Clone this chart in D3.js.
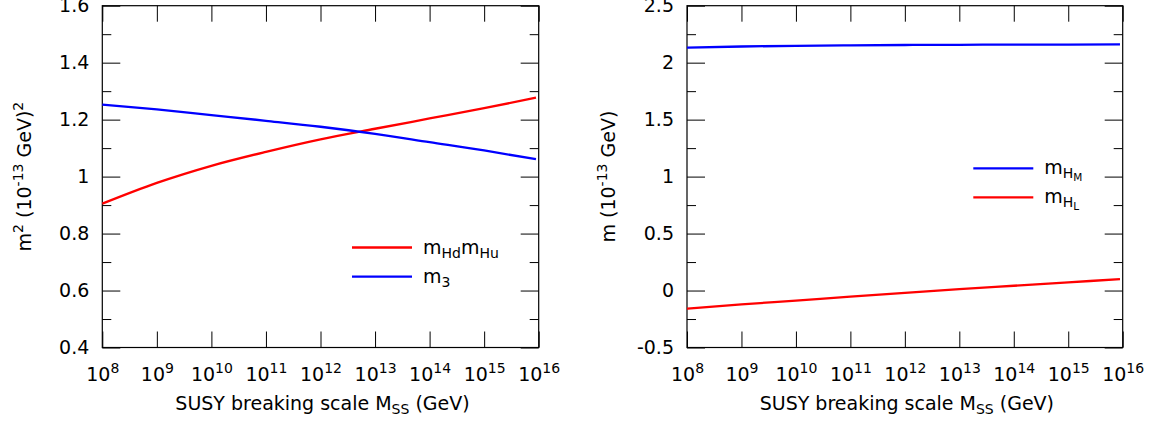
<!DOCTYPE html>
<html><head><meta charset="utf-8">
<script src="https://cdn.jsdelivr.net/npm/d3@7"></script>
<style>
html,body{margin:0;padding:0;background:#fff;}
svg{display:block;font-family:"DejaVu Sans",sans-serif;}
</style></head>
<body>
<svg id="c" width="1155" height="423"></svg>
<script>
// ---- data ----
const exponents = [8, 9, 10, 11, 12, 13, 14, 15, 15.95];   // log10(M_SS / GeV)
const mHdmHu = [0.905, 0.978, 1.038, 1.087, 1.131, 1.168, 1.204, 1.240, 1.277];
const m3     = [1.253, 1.236, 1.216, 1.196, 1.175, 1.150, 1.121, 1.092, 1.061];
const mHM    = [2.132, 2.142, 2.148, 2.152, 2.155, 2.157, 2.158, 2.159, 2.160];
const mHL    = [-0.160, -0.122, -0.088, -0.053, -0.020, 0.012, 0.042, 0.072, 0.100];
const xTickExps = [8, 9, 10, 11, 12, 13, 14, 15, 16];
const leftYTicks = [0.4, 0.6, 0.8, 1.0, 1.2, 1.4, 1.6];
const rightYTicks = [-0.5, 0, 0.5, 1.0, 1.5, 2.0, 2.5];
const xTitle = ["SUSY breaking scale M", "SS", " (GeV)"];

const svg = d3.select("#c");
const FS = 19, SFS = 14;

function panel(opt) {
  const x = d3.scaleLog().domain([1e8, 1e16]).range([opt.x0, opt.x1]);
  const y = d3.scaleLinear().domain(opt.ydom).range([opt.y1, opt.y0]);
  const g = svg.append("g");
  const xt = xTickExps.map(e => Math.pow(10, e));
  const ymin = [];
  for (let i = 0; i < opt.yticks.length - 1; i++) ymin.push((opt.yticks[i] + opt.yticks[i+1]) / 2);

  // inward ticks
  const tick = (axis, tx, ty, vals, size) => g.append("g")
    .attr("transform", `translate(${tx},${ty})`)
    .call(axis.tickValues(vals).tickSizeInner(size).tickSizeOuter(0).tickFormat(""))
    .call(s => s.select(".domain").remove())
    .call(s => s.selectAll("line").attr("stroke", "#000").attr("stroke-width", 1));
  tick(d3.axisTop(x), 0, opt.y1, xt, 16);
  tick(d3.axisBottom(x), 0, opt.y0, xt, 16);
  tick(d3.axisRight(y), opt.x0, 0, opt.yticks, 18);
  tick(d3.axisLeft(y), opt.x1, 0, opt.yticks, 18);
  tick(d3.axisRight(y), opt.x0, 0, ymin, 9);
  tick(d3.axisLeft(y), opt.x1, 0, ymin, 9);

  // y tick labels
  g.append("g").attr("transform", `translate(${opt.x0},0)`)
    .call(d3.axisLeft(y).tickValues(opt.yticks).tickSize(0).tickPadding(13)
      .tickFormat(d => String(+d.toFixed(1)).replace("\u2212", "-")))
    .call(s => s.select(".domain").remove())
    .call(s => s.selectAll("text").attr("font-size", FS).attr("font-family", "DejaVu Sans").attr("fill", "#000"));

  // x tick labels with superscripts
  const xa = g.append("g").attr("transform", `translate(0,${opt.y1})`)
    .call(d3.axisBottom(x).tickValues(xt).tickSize(0).tickFormat(d => String(Math.round(Math.log10(d)))))
    .call(s => s.select(".domain").remove());
  xa.selectAll("text").each(function() {
    const t = d3.select(this);
    const e = t.text();
    t.text("").attr("y", 0).attr("dy", null).attr("font-size", FS).attr("font-family", "DejaVu Sans").attr("fill", "#000")
      .attr("transform", "translate(0,33)");
    t.append("tspan").text("10");
    t.append("tspan").attr("font-size", SFS).attr("dy", -8).text(e);
  });

  // frame
  g.append("rect").attr("x", opt.x0).attr("y", opt.y0).attr("width", opt.x1 - opt.x0).attr("height", opt.y1 - opt.y0)
    .attr("fill", "none").attr("stroke", "#000").attr("stroke-width", 1.2);

  // series
  const line = d3.line().x(d => x(Math.pow(10, d[0]))).y(d => y(d[1])).curve(d3.curveMonotoneX);
  opt.series.forEach(s => {
    g.append("path").datum(exponents.map((e, i) => [e, s.values[i]]))
      .attr("d", line).attr("fill", "none").attr("stroke", s.color).attr("stroke-width", 2.3);
  });

  // legend
  opt.series.forEach(s => {
    g.append("line").attr("x1", opt.legX).attr("x2", opt.legX + 60).attr("y1", s.ly).attr("y2", s.ly)
      .attr("stroke", s.color).attr("stroke-width", 2.3);
    const t = g.append("text").attr("x", opt.legX + 71).attr("y", s.ly + 6).attr("font-size", FS).attr("fill", "#000");
    s.label.forEach(p => {
      const ts = t.append("tspan").text(p.t);
      if (p.fs) ts.attr("font-size", p.fs);
      if (p.dy) ts.attr("dy", p.dy);
    });
  });

  // x title
  const xtT = svg.append("text").attr("x", (opt.x0 + opt.x1) / 2 + 2).attr("y", 410)
    .attr("text-anchor", "middle").attr("font-size", FS).attr("fill", "#000");
  xtT.append("tspan").text(xTitle[0]);
  xtT.append("tspan").attr("font-size", SFS).attr("dy", 4).text(xTitle[1]);
  xtT.append("tspan").attr("dy", -4).text(xTitle[2]);

  // y title
  const yt = svg.append("text").attr("transform", `translate(${opt.ytx},${(opt.y0 + opt.y1) / 2}) rotate(-90)`)
    .attr("text-anchor", "middle").attr("font-size", FS).attr("fill", "#000");
  opt.ytitle.forEach(p => {
    const ts = yt.append("tspan").text(p.t);
    if (p.fs) ts.attr("font-size", p.fs);
    if (p.dy) ts.attr("dy", p.dy);
  });
}

panel({
  x0: 102.3, x1: 538.7, y0: 5.7, y1: 347.5, ydom: [0.4, 1.6], yticks: leftYTicks,
  legX: 352, ytx: 31,
  ytitle: [{t: "m"}, {t: "2", fs: SFS, dy: -8}, {t: " (10", dy: 8}, {t: "-13", fs: SFS, dy: -8}, {t: " GeV)", dy: 8}, {t: "2", fs: SFS, dy: -8}],
  series: [
    {values: mHdmHu, color: "#ff0000", ly: 247.5,
     label: [{t: "m"}, {t: "Hd", fs: SFS, dy: 4}, {t: "m", dy: -4}, {t: "Hu", fs: SFS, dy: 4}]},
    {values: m3, color: "#0000ff", ly: 276.7,
     label: [{t: "m"}, {t: "3", fs: SFS, dy: 4}]}
  ]
});

panel({
  x0: 687, x1: 1122.7, y0: 5.7, y1: 347.5, ydom: [-0.5, 2.5], yticks: rightYTicks,
  legX: 973.3, ytx: 615,
  ytitle: [{t: "m (10"}, {t: "-13", fs: SFS, dy: -8}, {t: " GeV)", dy: 8}],
  series: [
    {values: mHM, color: "#0000ff", ly: 168.3,
     label: [{t: "m"}, {t: "H", fs: SFS, dy: 4}, {t: "M", fs: 10.5, dy: 3}]},
    {values: mHL, color: "#ff0000", ly: 197.3,
     label: [{t: "m"}, {t: "H", fs: SFS, dy: 4}, {t: "L", fs: 10.5, dy: 3}]}
  ]
});
</script>
</body></html>
